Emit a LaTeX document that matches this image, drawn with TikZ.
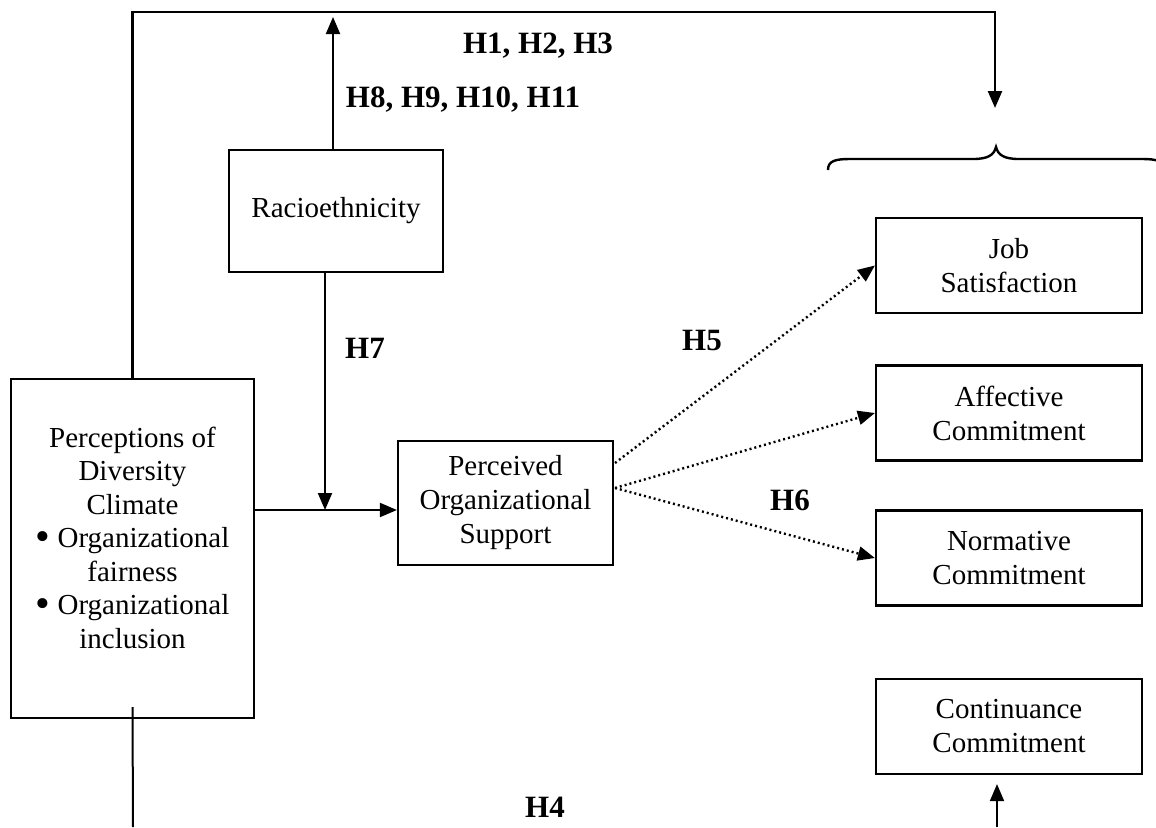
\documentclass[tikz,border=0pt]{standalone}
\usepackage{fontspec}
\setmainfont{Liberation Serif}
\usetikzlibrary{arrows.meta}

\newcommand{\bigbullet}{\raisebox{-0.08em}{\scalebox{1.45}{\textbullet}}}

\tikzset{
  box/.style={draw, line width=2.2pt, inner sep=0pt, align=center,
    font=\fontsize{29}{34}\selectfont},
  hyp/.style={font=\fontsize{31}{36}\selectfont\bfseries},
  arr/.style={line width=2pt, -{Triangle[length=17pt,width=14pt]}},
  dotarr/.style={line width=2.4pt, dash pattern=on 2pt off 3pt,
    -{Triangle[length=17pt,width=14pt]}},
}

\begin{document}
\begin{tikzpicture}[x=1pt, y=-1pt]
            \useasboundingbox (0,0) rectangle (1156,827);
            % boxes
            \node[box, minimum width=243pt, minimum height=339pt, font=\fontsize{29}{33.5}\selectfont] (perc) at (132.5,548.5)
              {Perceptions of\\Diversity\\Climate\\\bigbullet\ Organizational\\fairness\\\bigbullet\ Organizational\\inclusion\\[-12pt]};
            \node[box, minimum width=214pt, minimum height=122pt] (racio) at (336,211) {Racioethnicity};
            \node[box, minimum width=215pt, minimum height=124pt] (pos) at (505.5,503)
              {Perceived\\Organizational\\Support};
            \node[box, minimum width=266pt, minimum height=95pt] (job) at (1009,265.5) {Job\\Satisfaction};
            \node[box, minimum width=266pt, minimum height=95pt] (aff) at (1009,413) {Affective\\Commitment};
            \node[box, minimum width=266pt, minimum height=95pt] (norm) at (1009,558) {Normative\\Commitment};
            \node[box, minimum width=266pt, minimum height=95pt] (cont) at (1009,726.5) {Continuance\\Commitment};
            % define point
            \coordinate (tl)    at (132.5,12);
            \coordinate (tr)    at (995,12);
            \coordinate (trtip) at (995,108);
            \coordinate (uptip) at (333,17);
            \coordinate (mod)   at (325,510);
            \coordinate (s1)    at (615,463);
            \coordinate (s2)    at (615,488);
            \coordinate (bl)    at (133,827);
            \coordinate (br)    at (997,827);
            % paths
            \draw[arr, line width=2.4pt] (perc.north) -- (tl) -- (tr) -- (trtip);
            \draw[arr] (uptip |- racio.north) -- (uptip);
            \draw[arr] (mod |- racio.south) -- (mod);
            \draw[arr] (perc.east |- mod) -- (pos.west |- mod);
            \draw[dotarr] (s1) -- (job.west);
            \draw[dotarr] (s2) -- (aff.west);
            \draw[dotarr] (s2) -- (norm.west);
            \draw[line width=2pt] ([yshift=12pt]perc.south) -- (bl);
            \draw[arr, shorten >=9pt] (br) -- (br |- cont.south);
            % brace
            \draw[line width=2.4pt] (828,170) .. controls (828,161) and (835,159) .. (850,159) -- (973,159)
              .. controls (988,159) and (994,155) .. (996,147)
              .. controls (998,155) and (1004,159) .. (1019,159) -- (1142,159)
              .. controls (1157,159) and (1164,161) .. (1164,170);
            % labels
            \node[hyp] (h123) at (538,46) {H1, H2, H3};
            \node[hyp] (h811) at (463,100) {H8, H9, H10, H11};
            \node[hyp] (h7)   at (365,348) {H7};
            \node[hyp] (h5)   at (702,340) {H5};
            \node[hyp] (h6)   at (790,500) {H6};
            \node[hyp] (h4)   at (545,807) {H4};
        \end{tikzpicture}
\end{document}
